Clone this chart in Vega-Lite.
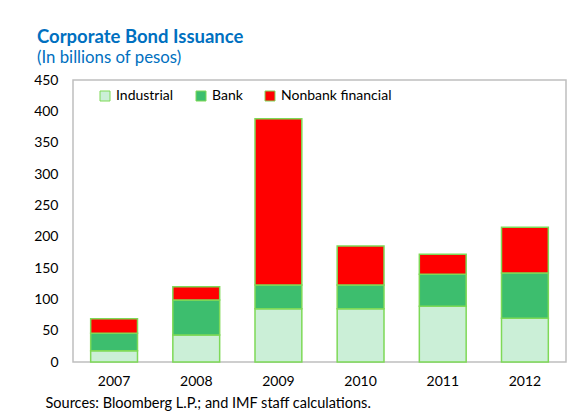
{
  "$schema": "https://vega.github.io/schema/vega-lite/v6.json",
  "autosize": {"type": "none"},
  "width": 493,
  "height": 282,
  "padding": {"left": 73, "top": 80, "right": 13, "bottom": 57},
  "background": "white",
  "config": {
    "font": "Lato",
    "view": {"stroke": "#BFBFBF", "strokeWidth": 1.5}
  },
  "title": {
    "text": "Corporate Bond Issuance",
    "subtitle": "(In billions of pesos)",
    "anchor": "start",
    "frame": "group",
    "dx": -36,
    "offset": 6,
    "font": "Lato",
    "fontSize": 18.5,
    "fontWeight": "bold",
    "color": "#0070C0",
    "subtitleFont": "Lato",
    "subtitleFontSize": 16.8,
    "subtitleColor": "#0070C0",
    "subtitlePadding": 4
  },
  "data": {
    "values": [
      {"year": "2007", "type": "Industrial", "o": 1, "value": 18},
      {"year": "2007", "type": "Bank", "o": 2, "value": 28},
      {"year": "2007", "type": "Nonbank financial", "o": 3, "value": 23},
      {"year": "2008", "type": "Industrial", "o": 1, "value": 43},
      {"year": "2008", "type": "Bank", "o": 2, "value": 56},
      {"year": "2008", "type": "Nonbank financial", "o": 3, "value": 21},
      {"year": "2009", "type": "Industrial", "o": 1, "value": 85},
      {"year": "2009", "type": "Bank", "o": 2, "value": 38},
      {"year": "2009", "type": "Nonbank financial", "o": 3, "value": 265},
      {"year": "2010", "type": "Industrial", "o": 1, "value": 85},
      {"year": "2010", "type": "Bank", "o": 2, "value": 38},
      {"year": "2010", "type": "Nonbank financial", "o": 3, "value": 62},
      {"year": "2011", "type": "Industrial", "o": 1, "value": 89},
      {"year": "2011", "type": "Bank", "o": 2, "value": 51},
      {"year": "2011", "type": "Nonbank financial", "o": 3, "value": 32},
      {"year": "2012", "type": "Industrial", "o": 1, "value": 70},
      {"year": "2012", "type": "Bank", "o": 2, "value": 72},
      {"year": "2012", "type": "Nonbank financial", "o": 3, "value": 73}
    ]
  },
  "mark": {"type": "bar", "stroke": "#7ED957", "strokeWidth": 1.5},
  "encoding": {
    "x": {
      "field": "year",
      "type": "nominal",
      "scale": {"paddingInner": 0.43, "paddingOuter": 0.215},
      "axis": {
        "labelAngle": 0,
        "ticks": false,
        "domain": false,
        "labelPadding": 12,
        "labelFontSize": 14,
        "labelColor": "black",
        "title": "Sources: Bloomberg L.P.; and IMF staff calculations.",
        "titleFontSize": 14.5,
        "titleFontWeight": "normal",
        "titleColor": "black",
        "titleAnchor": "start",
        "titleAlign": "left",
        "titleX": -28,
        "titleY": 34
      }
    },
    "y": {
      "field": "value",
      "type": "quantitative",
      "stack": "zero",
      "scale": {"domain": [0, 450]},
      "axis": {
        "values": [0, 50, 100, 150, 200, 250, 300, 350, 400, 450],
        "grid": false,
        "ticks": false,
        "domain": false,
        "labelPadding": 15,
        "labelFontSize": 14,
        "labelColor": "black",
        "title": null
      }
    },
    "color": {
      "field": "type",
      "type": "nominal",
      "sort": ["Industrial", "Bank", "Nonbank financial"],
      "scale": {
        "domain": ["Industrial", "Bank", "Nonbank financial"],
        "range": ["#CBEFD7", "#3DBE6E", "#FF0000"]
      },
      "legend": {
        "orient": "none",
        "legendX": 25,
        "legendY": 9,
        "direction": "horizontal",
        "title": null,
        "symbolType": "square",
        "symbolSize": 100,
        "symbolStrokeColor": "#7ED957",
        "symbolStrokeWidth": 1,
        "labelFontSize": 14,
        "labelColor": "black",
        "columnPadding": 20,
        "labelOffset": 4
      }
    },
    "order": {"field": "o", "type": "quantitative"}
  }
}
